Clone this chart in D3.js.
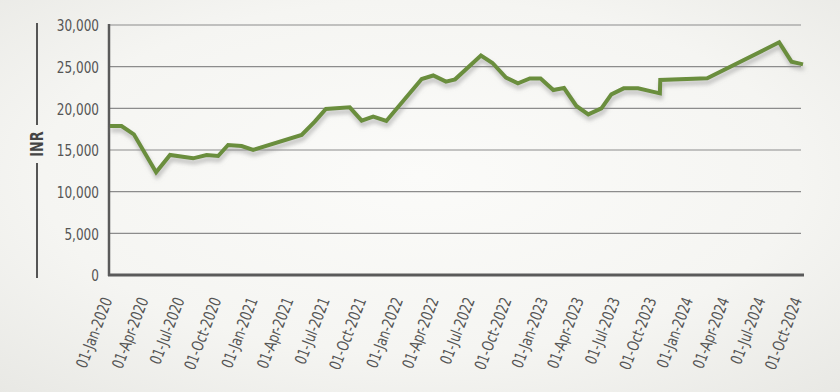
<!DOCTYPE html>
<html>
<head>
<meta charset="utf-8">
<script src="https://cdn.jsdelivr.net/npm/d3@7"></script>
<style>
  html, body { margin: 0; padding: 0; }
  body { width: 840px; height: 392px; overflow: hidden; }
  svg { display: block; }
</style>
</head>
<body>
<svg id="chart" width="840" height="392"></svg>
<script>
// ---- data ----
const dates = [
  "2020-01-01","2020-01-30","2020-03-01","2020-04-26","2020-05-31","2020-07-28",
  "2020-08-31","2020-09-29","2020-10-24","2020-11-27","2020-12-26","2021-04-27",
  "2021-05-30","2021-06-27","2021-08-26","2021-09-25","2021-10-24","2021-11-26",
  "2022-02-23","2022-03-24","2022-04-25","2022-05-18","2022-07-22","2022-08-20",
  "2022-09-23","2022-10-23","2022-11-22","2022-12-19","2023-01-20","2023-02-16",
  "2023-03-19","2023-04-18","2023-05-21","2023-06-15","2023-07-16","2023-08-21",
  "2023-10-15","2023-10-16","2024-02-11","2024-08-10","2024-09-10","2024-10-09"
];
const values = [
  17880,17880,16880,12320,14400,14000,
  14400,14280,15600,15480,15000,16800,
  18400,19920,20120,18520,19000,18480,
  23520,23940,23200,23480,26340,25440,
  23700,23000,23580,23580,22200,22440,
  20280,19280,20000,21680,22400,22400,
  21800,23400,23600,27920,25600,25280
];
const yTicks = [0, 5000, 10000, 15000, 20000, 25000, 30000];
const xTickLabels = [
  "01-Jan-2020","01-Apr-2020","01-Jul-2020","01-Oct-2020",
  "01-Jan-2021","01-Apr-2021","01-Jul-2021","01-Oct-2021",
  "01-Jan-2022","01-Apr-2022","01-Jul-2022","01-Oct-2022",
  "01-Jan-2023","01-Apr-2023","01-Jul-2023","01-Oct-2023",
  "01-Jan-2024","01-Apr-2024","01-Jul-2024","01-Oct-2024"
];
const yTitle = "INR";

(function () {
// ---- setup ----
const parseISO = d3.timeParse("%Y-%m-%d");
const parseTick = d3.timeParse("%d-%b-%Y");
const data = dates.map((d, i) => ({ date: parseISO(d), value: values[i] }));
const tickDates = xTickLabels.map(parseTick);

const svg = d3.select("#chart");
const W = 840, H = 392;
const mLeft = 110, mRight = 803, mTop = 25, mBottom = 275;
const fontFam = "'DejaVu Sans Condensed','DejaVu Sans',sans-serif";
const squeeze = 0.84;

const defs = svg.append("defs");
const bg = defs.append("radialGradient").attr("id", "bg")
  .attr("cx", "50%").attr("cy", "45%").attr("r", "75%");
bg.append("stop").attr("offset", "0%").attr("stop-color", "#fbfbf9");
bg.append("stop").attr("offset", "60%").attr("stop-color", "#f5f5f2");
bg.append("stop").attr("offset", "100%").attr("stop-color", "#e8e8e4");

const shadow = defs.append("filter").attr("id", "shadow")
  .attr("x", "-5%").attr("y", "-20%").attr("width", "110%").attr("height", "140%");
shadow.append("feDropShadow").attr("dx", 1).attr("dy", 4)
  .attr("stdDeviation", 2).attr("flood-color", "#888").attr("flood-opacity", 0.55);

svg.append("rect").attr("width", W).attr("height", H).attr("fill", "url(#bg)");

const x = d3.scaleTime()
  .domain([parseISO("2020-01-01"), parseISO("2024-10-09")])
  .range([mLeft, mRight]);
const y = d3.scaleLinear().domain([0, 30000]).range([mBottom, mTop]);

// gridlines
svg.append("g")
  .selectAll("line").data(yTicks.filter(v => v > 0)).join("line")
  .attr("x1", mLeft).attr("x2", mRight - 2)
  .attr("y1", d => y(d)).attr("y2", d => y(d))
  .attr("stroke", "#8c8c8c").attr("stroke-width", 1.2);

// y axis
const yAxis = d3.axisLeft(y).tickValues(yTicks)
  .tickFormat(d3.format(",")).tickSize(0).tickPadding(10);
const gy = svg.append("g").attr("transform", `translate(${mLeft - 1},0)`).call(yAxis);
gy.select(".domain").remove();
gy.selectAll("text")
  .attr("font-family", fontFam).attr("font-size", 16).attr("fill", "#555")
  .attr("x", 0).attr("dy", "0.36em")
  .attr("transform", `translate(-10,0) scale(${squeeze},1)`);
svg.append("line").attr("x1", mLeft - 1).attr("x2", mLeft - 1)
  .attr("y1", mTop - 1).attr("y2", mBottom + 1)
  .attr("stroke", "#5a5a5a").attr("stroke-width", 2.5);

// x axis
const xAxis = d3.axisBottom(x).tickValues(tickDates)
  .tickFormat(d3.timeFormat("%d-%b-%Y")).tickSize(0);
const gx = svg.append("g").attr("transform", `translate(0,${mBottom})`).call(xAxis);
gx.select(".domain").remove();
gx.selectAll("text")
  .attr("font-family", fontFam).attr("font-size", 16).attr("fill", "#555")
  .attr("text-anchor", "end")
  .attr("x", 0).attr("y", 0).attr("dy", 0)
  .attr("transform", `translate(2,25) rotate(-69) scale(${squeeze},1)`);
svg.append("line").attr("x1", mLeft - 2).attr("x2", mRight + 1)
  .attr("y1", mBottom).attr("y2", mBottom)
  .attr("stroke", "#5a5a5a").attr("stroke-width", 3);

// y title with bracket line
const tx = 37, tyMid = 144;
svg.append("line").attr("x1", tx).attr("x2", tx).attr("y1", mTop - 2).attr("y2", 125)
  .attr("stroke", "#555").attr("stroke-width", 2);
svg.append("line").attr("x1", tx).attr("x2", tx).attr("y1", 163).attr("y2", mBottom + 3)
  .attr("stroke", "#555").attr("stroke-width", 2);
svg.append("text")
  .attr("transform", `translate(${tx + 6},${tyMid}) rotate(-90) scale(${squeeze},1)`)
  .attr("text-anchor", "middle")
  .attr("font-family", fontFam).attr("font-weight", "bold")
  .attr("font-size", 17).attr("fill", "#444")
  .text(yTitle);

// line
const line = d3.line().x(d => x(d.date)).y(d => y(d.value));
svg.append("path").datum(data)
  .attr("d", line)
  .attr("fill", "none")
  .attr("stroke", "#6b8e3d")
  .attr("stroke-width", 4)
  .attr("stroke-linejoin", "miter")
  .attr("filter", "url(#shadow)");
})();
</script>
</body>
</html>
